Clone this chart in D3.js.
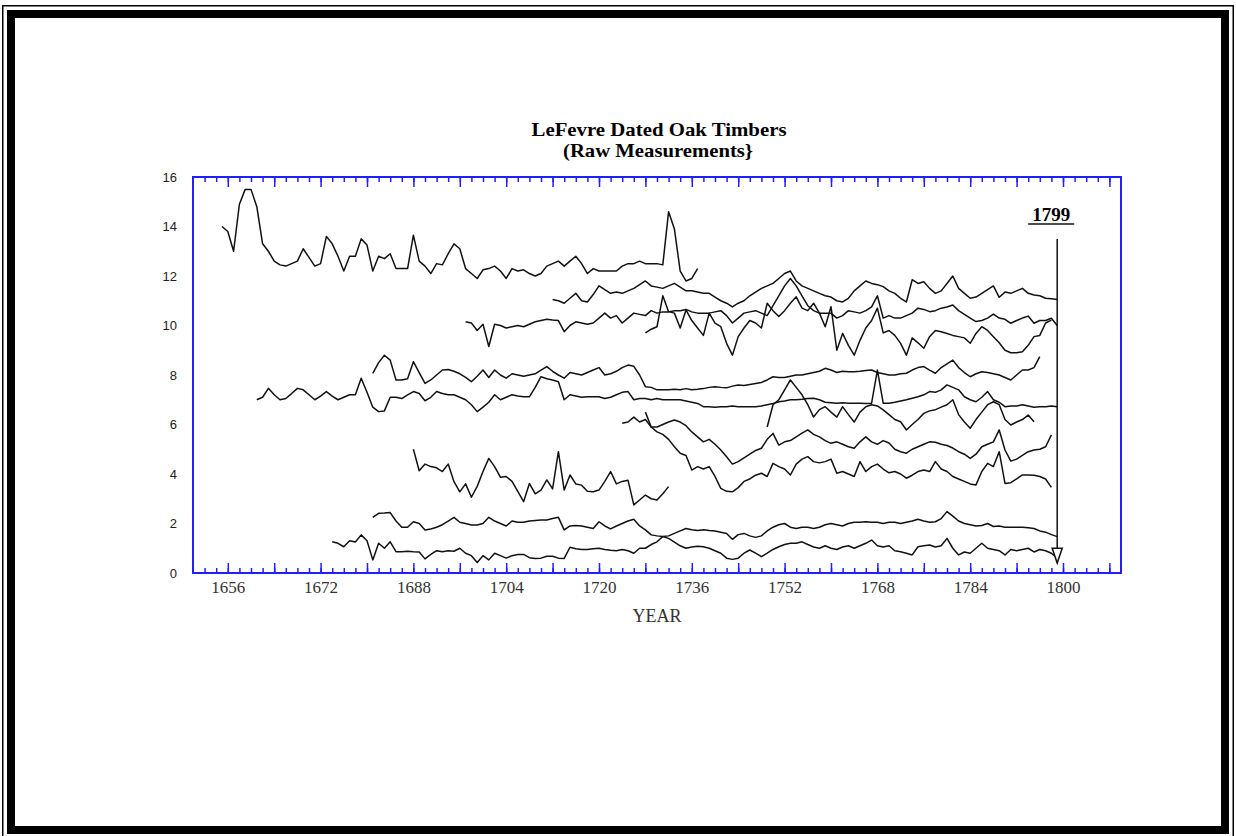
<!DOCTYPE html>
<html>
<head>
<meta charset="utf-8">
<title>LeFevre Dated Oak Timbers</title>
<script src="https://d3js.org/d3.v7.min.js"></script>
<style>
  body { margin: 0; background: #fff; }
  .title { font-family: "Liberation Serif", "DejaVu Serif", serif; font-weight: bold; font-size: 19px; }
  .xlab text { font-family: "Liberation Serif", "DejaVu Serif", serif; font-size: 17px; fill: #333; }
  .ylab text { font-family: "Liberation Sans", Arial, sans-serif; font-size: 13px; fill: #222; }
  .tick line { stroke: #1f1fff; stroke-width: 1.5; }
</style>
</head>
<body>
<script>
// year ticks / value ticks
var labelYears = [1656, 1672, 1688, 1704, 1720, 1736, 1752, 1768, 1784, 1800];
var valueTicks = [0, 2, 4, 6, 8, 10, 12, 14, 16];

// first year of each timber series
var timberStarts = [1655, 1712, 1697, 1728, 1661, 1681, 1749, 1724, 1728, 1688, 1681, 1674];

// raw ring measurements, one value per year
var timber01 = [
  14.0, 13.8, 13.0, 14.9, 15.5, 15.5, 14.8, 13.3, 13.0, 12.6,
  12.45, 12.4, 12.5, 12.6, 13.1, 12.75, 12.4, 12.5, 13.6, 13.3,
  12.8, 12.2, 12.8, 12.8, 13.5, 13.25, 12.2, 12.8, 12.7, 12.9,
  12.3, 12.3, 12.3, 13.65, 12.6, 12.4, 12.1, 12.5, 12.45, 12.9,
  13.3, 13.1, 12.3, 12.1, 11.9, 12.25, 12.3, 12.4, 12.2, 11.9,
  12.3, 12.2, 12.25, 12.1, 12.0, 12.1, 12.4, 12.5, 12.6, 12.4,
  12.6, 12.8, 12.5, 12.1, 12.3, 12.2, 12.2, 12.2, 12.2, 12.4,
  12.5, 12.5, 12.6, 12.5, 12.5, 12.5, 12.45, 14.6, 13.9, 12.2,
  11.8, 11.9, 12.3
];
var timber02 = [
  11.05, 11.0, 10.9, 11.1, 11.3, 11.0, 10.95, 11.25, 11.6, 11.45,
  11.3, 11.35, 11.3, 11.4, 11.5, 11.65, 11.8, 11.6, 11.55, 11.5,
  11.6, 11.7, 11.55, 11.4, 11.4, 11.35, 11.3, 11.3, 11.15, 11.0,
  10.9, 10.75, 10.9, 11.0, 11.2, 11.35, 11.5, 11.6, 11.7, 11.9,
  12.1, 12.2, 11.8, 11.6, 11.5, 11.4, 11.3, 11.2, 11.15, 11.0,
  10.95, 11.1, 11.4, 11.6, 11.8, 11.7, 11.65, 11.57, 11.4, 11.3,
  11.1, 10.95, 11.85, 11.7, 11.77, 11.5, 11.3, 11.4, 11.7, 12.0,
  11.5, 11.3, 11.1, 11.15, 11.3, 11.45, 11.6, 11.14, 11.35, 11.3,
  11.4, 11.5, 11.3, 11.23, 11.2, 11.1, 11.08, 11.05
];
var timber03 = [
  10.15, 10.1, 9.8, 10.05, 9.15, 10.05, 10.0, 9.9, 9.95, 10.0,
  9.95, 10.05, 10.15, 10.2, 10.25, 10.22, 10.2, 9.75, 10.0, 10.15,
  10.1, 10.05, 10.1, 10.3, 10.5, 10.3, 10.4, 10.1, 10.3, 10.5,
  10.45, 10.4, 10.6, 10.5, 10.55, 10.55, 10.6, 10.6, 10.65, 10.55,
  10.5, 10.5, 10.5, 10.55, 10.6, 10.4, 10.1, 10.3, 10.5, 10.55,
  10.6, 10.5, 10.4, 10.8, 11.2, 11.6, 11.9, 11.6, 11.2, 10.8,
  10.6, 10.5, 10.5, 10.5, 10.3, 10.4, 10.6, 10.55, 10.5, 10.6,
  10.75, 11.2, 10.3, 10.4, 10.3, 10.3, 10.4, 10.5, 10.7, 10.65,
  10.56, 10.6, 10.7, 10.75, 10.83, 10.6, 10.45, 10.3, 10.16, 10.2,
  10.3, 10.46, 10.3, 10.25, 10.09, 10.2, 10.3, 10.38, 10.09, 10.2,
  10.2, 10.29, 10.0
];
var timber04 = [
  9.7, 9.85, 9.95, 11.2, 10.56, 10.5, 9.9, 10.63, 10.2, 9.9,
  9.6, 10.5, 10.1, 9.95, 9.28, 8.8, 9.55, 9.9, 10.2, 10.1,
  9.9, 10.9, 10.6, 10.36, 10.6, 10.9, 11.16, 10.7, 10.6, 10.9,
  10.5, 9.95, 10.76, 9.0, 9.68, 9.2, 8.8, 9.4, 9.9, 10.2,
  10.7, 9.7, 9.8, 9.6, 9.28, 8.8, 9.5, 9.3, 9.08, 9.55,
  9.8, 9.75, 9.68, 9.6, 9.55, 9.5, 9.28, 9.68, 9.95, 9.8,
  9.55, 9.3, 9.0, 8.9, 8.9, 8.94, 9.2, 9.55, 9.6, 10.1,
  10.22
];
var timber05 = [
  7.0, 7.1, 7.46, 7.2, 7.0, 7.05, 7.25, 7.46, 7.4, 7.2,
  7.0, 7.15, 7.33, 7.15, 7.0, 7.1, 7.2, 7.2, 7.87, 7.3,
  6.7, 6.52, 6.55, 7.1, 7.1, 7.05, 7.2, 7.33, 7.25, 6.96,
  7.1, 7.33, 7.25, 7.2, 7.2, 7.1, 7.0, 6.8, 6.52, 6.7,
  6.9, 7.2, 7.0, 7.1, 7.2, 7.15, 7.12, 7.12, 7.5, 7.93,
  7.85, 7.8, 7.73, 7.0, 7.2, 7.15, 7.1, 7.12, 7.12, 7.12,
  7.05, 7.1, 7.2, 7.3, 7.33, 7.0, 7.05, 7.05, 7.0, 7.05,
  7.0, 7.0, 7.0, 7.0, 6.95, 6.9, 6.85, 6.72, 6.72, 6.7,
  6.72, 6.72, 6.75, 6.72, 6.72, 6.72, 6.72, 6.75, 6.8, 6.85,
  6.92, 6.95, 7.0, 7.0, 7.02, 7.05, 7.06, 7.0, 6.9, 6.88,
  6.86, 6.88, 6.86, 6.86, 6.86, 6.85, 6.86, 8.2, 6.86, 6.86,
  6.9, 6.95, 7.0, 7.06, 7.12, 7.2, 7.33, 7.3, 7.4, 7.6,
  7.5, 7.4, 7.12, 7.0, 6.92, 7.1, 7.33, 7.0, 6.9, 6.72,
  6.75, 6.75, 6.8, 6.75, 6.7, 6.72, 6.72, 6.75, 6.72
];
var timber06 = [
  8.07, 8.5, 8.8, 8.6, 7.8, 7.8, 7.85, 8.54, 8.1, 7.66,
  7.8, 8.0, 8.2, 8.22, 8.15, 8.05, 7.9, 7.73, 7.95, 8.2,
  7.9, 8.2, 8.0, 7.87, 8.05, 8.0, 7.95, 8.0, 8.05, 8.2,
  8.34, 8.15, 8.0, 7.87, 8.1, 8.05, 8.0, 8.1, 8.2, 8.3,
  8.0, 8.05, 8.15, 8.3, 8.4, 8.35, 8.0, 7.53, 7.5, 7.4,
  7.4, 7.4, 7.42, 7.4, 7.45, 7.4, 7.42, 7.45, 7.5, 7.53,
  7.5, 7.48, 7.55, 7.6, 7.58, 7.62, 7.66, 7.7, 7.8, 7.93,
  7.9, 7.9, 7.95, 8.0, 8.0, 8.05, 8.1, 8.15, 8.27, 8.2,
  8.1, 8.15, 8.13, 8.13, 8.15, 8.18, 8.2, 8.1, 8.05, 8.0,
  8.0, 8.05, 8.07, 8.2, 8.3, 8.34, 8.2, 8.07, 8.3, 8.45,
  8.6, 8.3, 8.1, 7.93, 8.05, 8.13, 8.1, 8.05, 8.0, 7.9,
  7.8, 8.0, 8.2, 8.2, 8.3, 8.74
];
var timber07 = [
  5.9, 6.8, 7.0, 7.4, 7.8, 7.5, 7.2, 6.8, 6.3, 6.6,
  6.72, 6.5, 6.3, 6.72, 6.4, 6.1, 6.5, 6.72, 6.8, 6.75,
  6.59, 6.4, 6.2, 6.11, 5.78, 6.0, 6.2, 6.45, 6.55, 6.6,
  6.7, 6.8, 7.0, 6.4, 6.1, 5.85, 6.2, 6.5, 6.8, 6.92,
  6.8, 6.2, 5.98, 6.1, 6.2, 6.38, 6.11
];
var timber08 = [
  6.05, 6.1, 6.3, 6.1, 6.2, 5.9, 5.9, 6.0, 6.1, 6.18,
  6.1, 5.95, 5.7, 5.5, 5.3, 5.4, 5.2, 4.97, 4.7, 4.4,
  4.5, 4.65, 4.8, 4.95, 5.04, 5.4, 5.64, 5.17, 5.3, 5.35,
  5.5, 5.65, 5.78, 5.6, 5.5, 5.35, 5.24, 5.3, 5.2, 5.1,
  5.04, 5.3, 5.5, 5.3, 5.2, 5.35, 5.25, 5.0, 4.9, 4.84,
  5.0, 5.1, 5.2, 5.3, 5.28, 5.2, 5.15, 5.05, 4.9, 4.8,
  4.63, 4.8, 5.1, 5.2, 5.3, 5.78, 4.97, 4.52, 4.6, 4.75,
  4.9, 4.97, 5.0, 5.1, 5.58
];
var timber09 = [
  6.5, 5.9, 5.7, 5.6, 5.4, 5.1, 4.84, 4.75, 4.16, 4.3,
  4.2, 4.3, 3.9, 3.42, 3.3, 3.28, 3.45, 3.7, 3.8, 3.95,
  4.03, 3.9, 4.43, 4.3, 4.2, 3.96, 4.4, 4.6, 4.7, 4.5,
  4.45, 4.5, 4.6, 4.03, 4.1, 4.0, 3.9, 4.5, 4.1, 4.3,
  4.4, 4.2, 4.05, 4.1, 4.0, 3.83, 3.95, 4.1, 4.16, 4.1,
  4.5, 4.2, 4.1, 3.9, 3.8, 3.7, 3.6, 3.56, 4.1, 4.43,
  4.3, 4.9, 3.62, 3.65, 3.8, 3.96, 3.96, 3.95, 3.9, 3.8,
  3.46
];
var timber10 = [
  5.0, 4.13, 4.4, 4.3, 4.25, 4.1, 4.4, 3.69, 3.28, 3.6,
  3.06, 3.5, 4.1, 4.63, 4.3, 3.87, 3.9, 3.7, 3.3, 2.88,
  3.62, 3.2, 3.35, 3.76, 3.4, 4.9, 3.35, 3.96, 3.6, 3.55,
  3.3, 3.28, 3.35, 3.7, 4.1, 3.6, 3.7, 3.75, 2.75, 2.95,
  3.15, 3.0, 2.95, 3.2, 3.49
];
var timber11 = [
  2.25, 2.41, 2.42, 2.44, 2.1, 1.85, 1.85, 2.07, 2.0, 1.74,
  1.78, 1.85, 1.95, 2.1, 2.25, 2.05, 2.0, 1.94, 1.94, 2.0,
  2.25, 2.1, 2.0, 1.9, 2.1, 2.05, 2.05, 2.1, 2.12, 2.14,
  2.14, 2.2, 2.25, 1.74, 1.9, 1.92, 1.9, 1.85, 1.8, 2.07,
  1.9, 1.78, 1.9, 2.0, 2.1, 2.17, 1.9, 1.74, 1.54, 1.5,
  1.47, 1.4, 1.25, 1.1, 1.0, 1.05, 1.08, 1.06, 1.0, 0.9,
  0.8, 0.6, 0.55, 0.6, 0.8, 0.93, 0.8, 0.66, 0.8, 0.95,
  1.06, 1.15, 1.2, 1.2, 1.26, 1.15, 1.05, 1.0, 1.1, 1.0,
  0.95, 1.05, 1.1, 1.0, 1.1, 1.2, 1.33, 1.1, 1.05, 1.1,
  0.9, 0.86, 0.8, 0.73, 1.06, 1.1, 1.13, 1.05, 1.1, 1.4,
  1.0, 0.73, 0.85, 0.8, 1.0, 1.2, 1.0, 0.95, 0.9, 0.73,
  0.95, 0.9, 0.95, 1.0, 0.85, 0.95, 0.9, 0.8, 0.6
];
var timber12 = [
  1.26, 1.2, 1.06, 1.3, 1.25, 1.54, 1.3, 0.53, 1.2, 1.0,
  1.26, 0.86, 0.86, 0.88, 0.86, 0.85, 0.57, 0.75, 0.9, 0.86,
  0.9, 0.88, 1.0, 0.8, 0.7, 0.42, 0.7, 0.53, 0.8, 0.7,
  0.6, 0.7, 0.75, 0.75, 0.62, 0.59, 0.6, 0.68, 0.68, 0.6,
  0.59, 1.04, 0.98, 0.95, 0.95, 0.98, 1.0, 0.95, 0.92, 0.9,
  0.95, 0.9, 0.8, 1.0, 1.0, 1.15, 1.26, 1.47, 1.5, 1.6,
  1.7, 1.8, 1.75, 1.72, 1.75, 1.72, 1.7, 1.65, 1.6, 1.36,
  1.55, 1.6, 1.5, 1.44, 1.5, 1.7, 1.85, 1.95, 2.0, 1.85,
  1.8, 1.85, 1.85, 1.8, 1.85, 1.95, 2.0, 1.95, 1.9, 2.0,
  2.05, 2.05, 2.07, 2.05, 2.05, 2.0, 2.05, 2.05, 2.0, 2.05,
  2.1, 2.17, 2.1, 2.05, 2.07, 2.2, 2.48, 2.3, 2.1, 2.0,
  1.95, 1.9, 1.92, 2.0, 1.88, 1.9, 1.85, 1.85, 1.85, 1.85,
  1.83, 1.8, 1.7, 1.65, 1.55, 1.47
];

var width = 1236, height = 836;
var svg = d3.select("body").append("svg")
    .attr("width", width).attr("height", height);

// page frame
svg.append("rect").attr("x", 2.75).attr("y", 5.75).attr("width", 1230.5).attr("height", 840)
    .attr("fill", "none").attr("stroke", "#000").attr("stroke-width", 1.5);
svg.append("rect").attr("x", 11).attr("y", 14).attr("width", 1214).attr("height", 816)
    .attr("fill", "none").attr("stroke", "#000").attr("stroke-width", 8);

var x = d3.scaleLinear().domain([1650, 1810]).range([193, 1121]);
var y = d3.scaleLinear().domain([0, 16]).range([573, 177]);

var minorYears = d3.range(1652, 1810, 2);
var majorYears = d3.range(1656, 1810, 8);

function noDomain(g) { g.select(".domain").remove(); }

// bottom ticks (pointing up)
svg.append("g").attr("transform", "translate(0,573)")
    .call(d3.axisTop(x).tickValues(minorYears).tickSize(5).tickFormat("")).call(noDomain);
svg.append("g").attr("transform", "translate(0,573)")
    .call(d3.axisTop(x).tickValues(majorYears).tickSize(10).tickFormat("")).call(noDomain);
// top ticks (pointing down)
svg.append("g").attr("transform", "translate(0,177)")
    .call(d3.axisBottom(x).tickValues(minorYears).tickSize(5).tickFormat("")).call(noDomain);
svg.append("g").attr("transform", "translate(0,177)")
    .call(d3.axisBottom(x).tickValues(majorYears).tickSize(10).tickFormat("")).call(noDomain);

// labels
svg.append("g").attr("class", "xlab").attr("transform", "translate(0,573)")
    .call(d3.axisBottom(x).tickValues(labelYears).tickSize(0).tickPadding(8).tickFormat(d3.format("d")))
    .call(noDomain);
svg.append("g").attr("class", "ylab").attr("transform", "translate(193,0)")
    .call(d3.axisLeft(y).tickValues(valueTicks).tickSize(0).tickPadding(16))
    .call(noDomain);

// plot box
svg.append("rect").attr("x", x(1650)).attr("y", y(16))
    .attr("width", x(1810) - x(1650)).attr("height", y(0) - y(16))
    .attr("fill", "none").attr("stroke", "#1f1fff").attr("stroke-width", 2);

// series
var timbers = [timber01, timber02, timber03, timber04, timber05, timber06,
               timber07, timber08, timber09, timber10, timber11, timber12];
var series = timbers.map(function(vals, i) {
  return vals.map(function(v, j) { return {year: timberStarts[i] + j, value: v}; });
});
var line = d3.line().x(function(d) { return x(d.year); }).y(function(d) { return y(d.value); });
svg.append("g").selectAll("path").data(series).enter().append("path")
    .attr("d", line).attr("fill", "none").attr("stroke", "#111")
    .attr("stroke-width", 1.5).attr("stroke-linejoin", "round");

// felling year marker
var xm = x(1799);
svg.append("line").attr("x1", xm).attr("x2", xm).attr("y1", y(13.5)).attr("y2", y(0.4))
    .attr("stroke", "#111").attr("stroke-width", 1.5);
svg.append("path")
    .attr("d", "M" + (xm - 5) + "," + y(1.0) + "L" + (xm + 5) + "," + y(1.0) + "L" + xm + "," + y(0.4) + "Z")
    .attr("fill", "#fff").attr("stroke", "#111").attr("stroke-width", 1.5);
svg.append("text").attr("class", "title").attr("x", xm - 6).attr("y", 221)
    .attr("text-anchor", "middle").text("1799");
svg.append("line").attr("x1", xm - 29).attr("x2", xm + 17).attr("y1", 224).attr("y2", 224)
    .attr("stroke", "#111").attr("stroke-width", 1.5);

// titles
svg.append("text").attr("class", "title").attr("x", 659).attr("y", 136)
    .attr("text-anchor", "middle").attr("textLength", 255).attr("lengthAdjust", "spacingAndGlyphs")
    .text("LeFevre Dated Oak Timbers");
svg.append("text").attr("class", "title").attr("x", 658).attr("y", 157)
    .attr("text-anchor", "middle").attr("textLength", 190).attr("lengthAdjust", "spacingAndGlyphs")
    .text("(Raw Measurements}");
svg.append("text").attr("x", 657).attr("y", 622).attr("text-anchor", "middle")
    .style("font-family", "'Liberation Serif', serif").style("font-size", "18px").style("fill", "#333")
    .text("YEAR");
</script>
</body>
</html>
